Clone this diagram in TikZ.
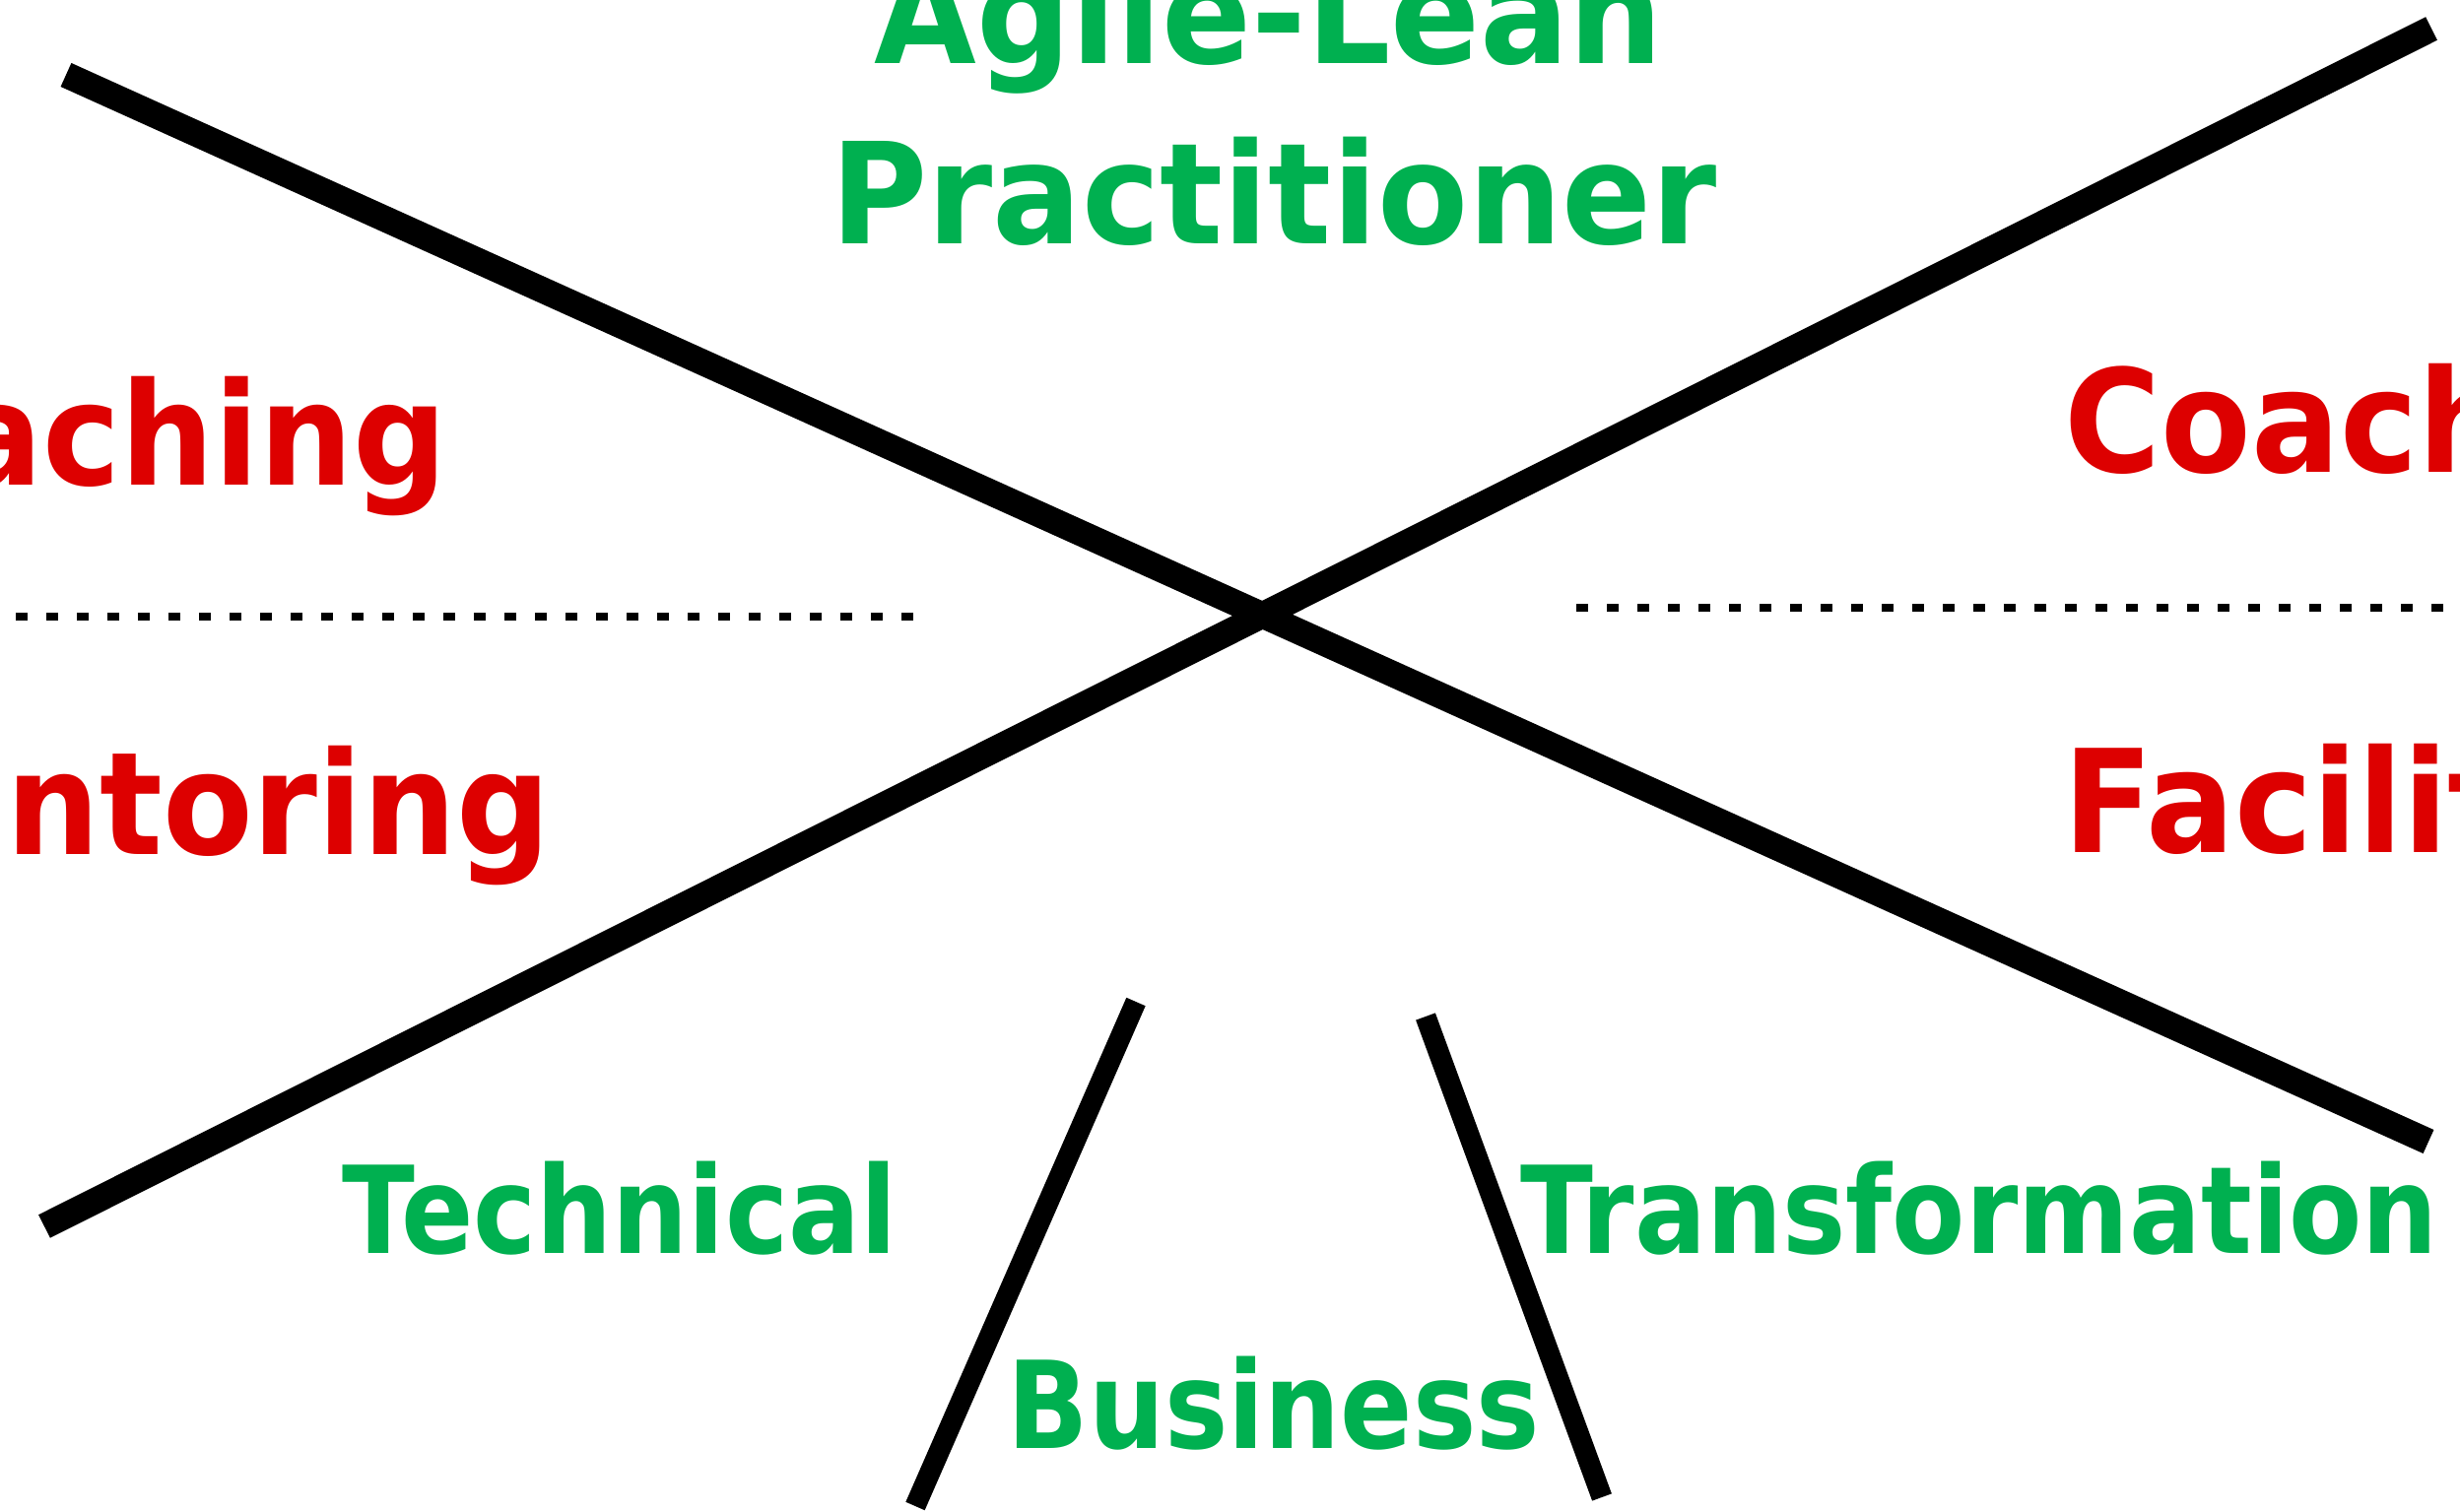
\documentclass[tikz,border=0pt]{standalone}
\usepackage{fontspec}
\usepackage{xcolor}
\usepackage{tikz}
\setmainfont{DejaVu Sans}
\newfontfamily\headfont{DejaVu Sans}[FakeStretch=0.94]
\newfontfamily\rolefont{DejaVu Sans}[FakeStretch=0.92]
\newfontfamily\areafont{DejaVu Sans}[FakeStretch=0.88]
\definecolor{leangreen}{RGB}{0,176,80}
\definecolor{rolered}{RGB}{221,0,0}

\begin{document}
\begin{tikzpicture}[
    x = 0.1mm,
    y = -0.1mm,
    cross/.style={line width=7.5pt, black},
    stem/.style={line width=6pt, black},
    divider/.style={line width=2pt, black, dash pattern=on 1.2mm off 1.9mm},
    heading/.style={inner sep=0pt, text=leangreen, font=\headfont\bfseries\fontsize{40.6}{44}\selectfont},
    role/.style={inner sep=0pt, text=rolered, font=\rolefont\bfseries\fontsize{41.3}{45}\selectfont},
    area/.style={inner sep=0pt, text=leangreen, font=\areafont\bfseries\fontsize{35}{38}\selectfont}
]
    \useasboundingbox (0,0) rectangle (2497,1535);
    \clip (0,0) rectangle (2497,1535);

    % the big cross
    \coordinate (nw) at (67,76);
    \coordinate (se) at (2465,1159);
    \coordinate (sw) at (45,1245);
    \coordinate (ne) at (2468,29);
    \draw[cross] (nw) -- (se);
    \draw[cross] (sw) -- (ne);

    % the two legs below the crossing
    \coordinate (bl top) at (1153,1017);
    \coordinate (bl foot) at (929,1529);
    \coordinate (br top) at (1447,1032);
    \coordinate (br foot) at (1626,1520);
    \draw[stem] (bl top) -- (bl foot);
    \draw[stem] (br top) -- (br foot);

    % dotted dividers
    \coordinate (dl a) at (16,626);
    \coordinate (dl b) at (945,626);
    \coordinate (dr a) at (1600,617);
    \coordinate (dr b) at (2510,617);
    \draw[divider] (dl a) -- (dl b);
    \draw[divider] (dr a) -- (dr b);

    \node[heading, anchor=base] (agile) at (1288,65) {Agile-Lean};
    \node[heading, anchor=base] (practitioner) at (1293,248) {Practitioner};

    \node[role, anchor=base east] (coachL) at (455,493) {Coaching};
    \node[role, anchor=base east] (mentorL) at (560,868) {Mentoring};
    \node[role, anchor=base west] (coachR) at (2095,480) {Coaching};
    \node[role, anchor=base west] (facilR) at (2094,865) {Facilitating};

    \node[area, anchor=base west] (technical) at (347,1272) {Technical};
    \node[area, anchor=base west] (business) at (1022,1470) {Business};
    \node[area, anchor=base west] (transform) at (1543,1272) {Transformation};
\end{tikzpicture}
\end{document}
